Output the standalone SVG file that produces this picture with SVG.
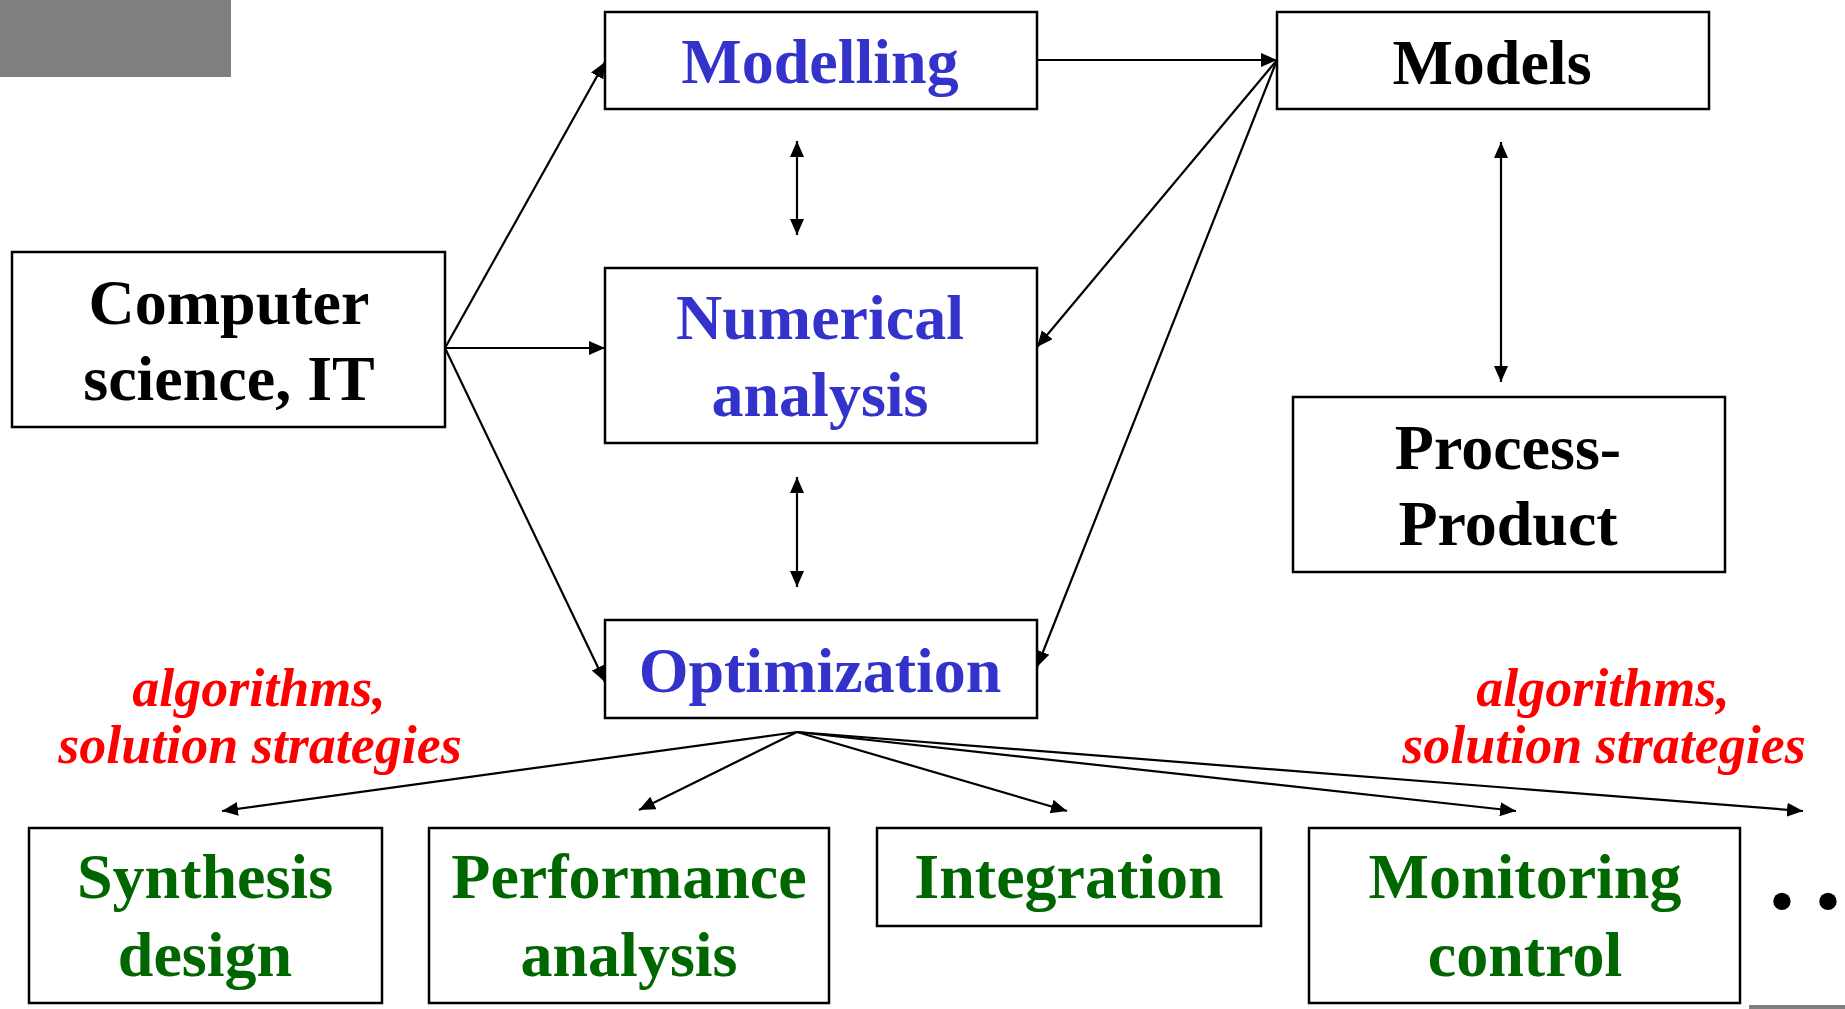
<svg xmlns="http://www.w3.org/2000/svg" width="1845" height="1009" viewBox="0 0 1845 1009">
  <style>
    .box { fill: #ffffff; stroke: #000000; stroke-width: 2.5; }
    .t { font-family: "Liberation Serif", "Times New Roman", serif; font-weight: bold; font-size: 64px; text-anchor: middle; }
    .blue { fill: #3333cc; }
    .black { fill: #000000; }
    .green { fill: #006600; }
    .note { font-family: "Liberation Serif", "Times New Roman", serif; font-weight: bold; font-style: italic; font-size: 54px; text-anchor: middle; fill: #ff0000; }
    .link { stroke: #000000; stroke-width: 2.2; fill: none; }
    .one { marker-end: url(#head); }
    .two { marker-start: url(#head); marker-end: url(#head); }
  </style>
  <defs>
    <marker id="head" markerUnits="userSpaceOnUse" markerWidth="18" markerHeight="16" refX="16" refY="7" orient="auto-start-reverse">
      <path d="M0,0 L16,7 L0,14 z" fill="#000000"/>
    </marker>
  </defs>

  <rect x="0" y="0" width="231" height="77" fill="#808080"/>
  <rect x="1749" y="1005" width="96" height="4" fill="#808080"/>

  <g id="connectors">
    <line class="link one" x1="445" y1="348" x2="605" y2="62"/>
    <line class="link one" x1="445" y1="348" x2="605" y2="348"/>
    <line class="link one" x1="445" y1="348" x2="605" y2="682"/>
    <line class="link one" x1="1037" y1="60" x2="1277" y2="60"/>
    <line class="link one" x1="1277" y1="60" x2="1037" y2="347"/>
    <line class="link one" x1="1277" y1="60" x2="1037" y2="667"/>
    <line class="link two" x1="797" y1="141" x2="797" y2="235"/>
    <line class="link two" x1="797" y1="477" x2="797" y2="587"/>
    <line class="link two" x1="1501" y1="142" x2="1501" y2="382"/>
    <line class="link one" x1="797" y1="732" x2="222" y2="811"/>
    <line class="link one" x1="797" y1="732" x2="639" y2="810"/>
    <line class="link one" x1="797" y1="732" x2="1067" y2="811"/>
    <line class="link one" x1="797" y1="732" x2="1516" y2="811"/>
    <line class="link one" x1="797" y1="732" x2="1803" y2="811"/>
  </g>

  <g id="modelling">
    <rect class="box" x="605" y="12" width="432" height="97"/>
    <text class="t blue" x="820" y="83">Modelling</text>
  </g>
  <g id="models">
    <rect class="box" x="1277" y="12" width="432" height="97"/>
    <text class="t black" x="1492" y="84">Models</text>
  </g>
  <g id="computer-science">
    <rect class="box" x="12" y="252" width="433" height="175"/>
    <text class="t black" x="229" y="324">Computer</text>
    <text class="t black" x="229" y="400">science, IT</text>
  </g>
  <g id="numerical-analysis">
    <rect class="box" x="605" y="268" width="432" height="175"/>
    <text class="t blue" x="820" y="339">Numerical</text>
    <text class="t blue" x="820" y="416">analysis</text>
  </g>
  <g id="process-product">
    <rect class="box" x="1293" y="397" width="432" height="175"/>
    <text class="t black" x="1508" y="469">Process-</text>
    <text class="t black" x="1508" y="545">Product</text>
  </g>
  <g id="optimization">
    <rect class="box" x="605" y="620" width="432" height="98"/>
    <text class="t blue" x="820" y="692">Optimization</text>
  </g>

  <g id="note-left">
    <text class="note" x="259" y="706">algorithms,</text>
    <text class="note" x="260" y="763">solution strategies</text>
  </g>
  <g id="note-right">
    <text class="note" x="1603" y="706">algorithms,</text>
    <text class="note" x="1604" y="763">solution strategies</text>
  </g>

  <g id="synthesis-design">
    <rect class="box" x="29" y="828" width="353" height="175"/>
    <text class="t green" x="205" y="898">Synthesis</text>
    <text class="t green" x="205" y="976">design</text>
  </g>
  <g id="performance-analysis">
    <rect class="box" x="429" y="828" width="400" height="175"/>
    <text class="t green" x="629" y="898">Performance</text>
    <text class="t green" x="629" y="976">analysis</text>
  </g>
  <g id="integration">
    <rect class="box" x="877" y="828" width="384" height="98"/>
    <text class="t green" x="1069" y="898">Integration</text>
  </g>
  <g id="monitoring-control">
    <rect class="box" x="1309" y="828" width="431" height="175"/>
    <text class="t green" x="1525" y="898">Monitoring</text>
    <text class="t green" x="1525" y="976">control</text>
  </g>
  <g id="more">
    <text class="t black" y="922"><tspan x="1782">•</tspan><tspan x="1828">•</tspan></text>
  </g>
</svg>
